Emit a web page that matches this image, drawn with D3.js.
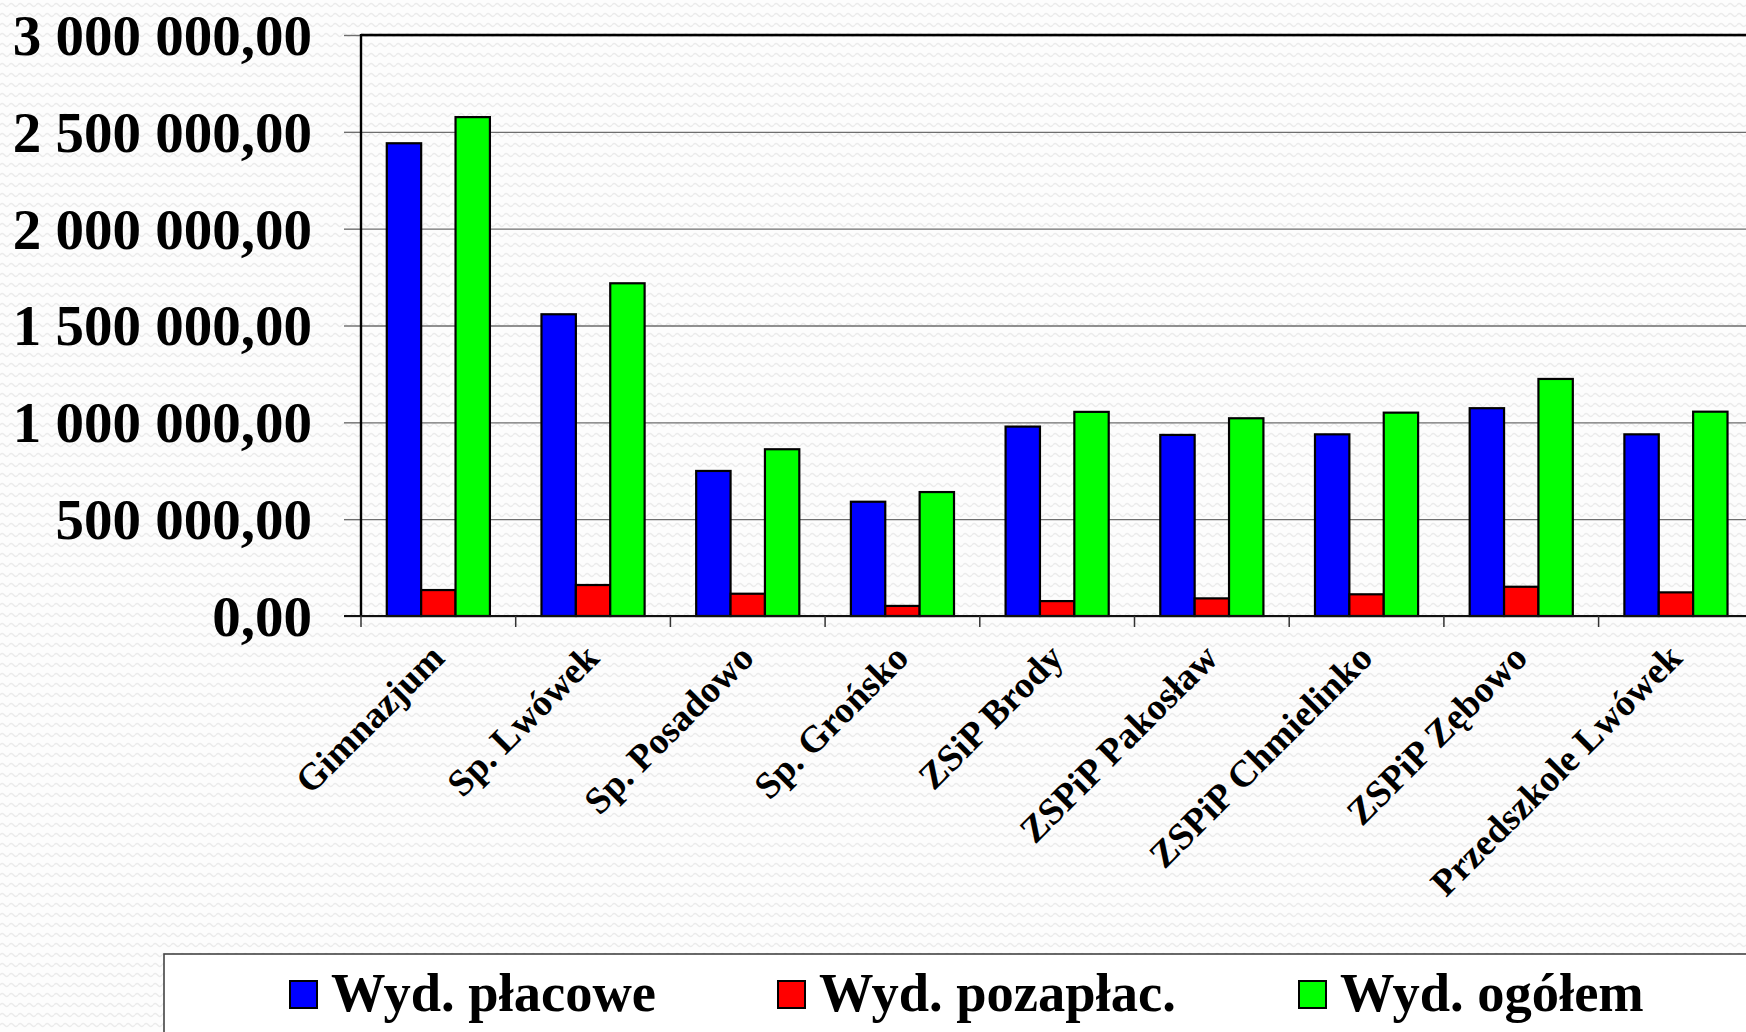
<!DOCTYPE html>
<html>
<head>
<meta charset="utf-8">
<script src="https://cdn.jsdelivr.net/npm/d3@7"></script>
<style>
  html, body { margin: 0; padding: 0; background: #ffffff; }
  svg { display: block; }
  text { font-family: "Liberation Serif", "Times New Roman", serif; font-weight: bold; fill: #000; }
</style>
</head>
<body>
<svg id="chart" width="1746" height="1032"></svg>
<script>
// ---- data ----
const categories = ["Gimnazjum", "Sp. Lwówek", "Sp. Posadowo", "Sp. Grońsko", "ZSiP Brody",
                    "ZSPiP Pakosław", "ZSPiP Chmielinko", "ZSPiP Zębowo", "Przedszkole Lwówek"];
const seriesNames = ["Wyd. płacowe", "Wyd. pozapłac.", "Wyd. ogółem"];
const placowe    = [2441000, 1558000, 749000, 590000, 978000, 935000, 938000, 1073000, 938000];
const pozaplac   = [134000, 160000, 115000, 52000, 77000, 91000, 112000, 151000, 122000];
const ogolem     = [2576000, 1718000, 861000, 640000, 1054000, 1021000, 1050000, 1224000, 1055000];
const yTicks     = [0, 500000, 1000000, 1500000, 2000000, 2500000, 3000000];
const seriesColors = ["#0000ff", "#ff0000", "#00ff00"];

const seriesValues = [placowe, pozaplac, ogolem];
const rows = categories.map((c, i) => ({cat: c, vals: seriesValues.map(s => s[i])}));

// ---- layout ----
const svg = d3.select("#chart");
const W = 1746, H = 1032;
const plotLeft = 361, plotTop = 35, plotBottom = 616;
const plotRight = plotLeft + 9 * 154.7;

// background texture
const defs = svg.append("defs");
const pat = defs.append("pattern").attr("id", "bg").attr("patternUnits", "userSpaceOnUse")
  .attr("width", 9).attr("height", 10);
pat.append("rect").attr("width", 9).attr("height", 10).attr("fill", "#fdfdfd");
pat.append("path").attr("d", "M0,5 Q2.25,2 4.5,5 T9,5")
  .attr("fill", "none").attr("stroke", "#ebebeb").attr("stroke-width", 1.3);
svg.append("rect").attr("width", W).attr("height", H).attr("fill", "url(#bg)");

const x0 = d3.scaleBand().domain(categories).range([plotLeft, plotRight]).paddingInner(0).paddingOuter(0);
const barW = x0.bandwidth() / 4.5;
const x1 = d3.scaleBand().domain(seriesNames).range([0, barW * 3]);
const y = d3.scaleLinear().domain([0, 3000000]).range([plotBottom, plotTop]);

const loc = d3.formatLocale({decimal: ",", thousands: " ", grouping: [3], currency: ["", ""]});
const fmt = loc.format(",.2f");

// gridlines
const grid = svg.append("g").attr("transform", `translate(${plotLeft},0)`)
  .call(d3.axisLeft(y).tickValues(yTicks).tickSize(-(plotRight - plotLeft)).tickFormat(""));
grid.select(".domain").remove();
grid.selectAll(".tick line").attr("stroke", "#6e6e6e").attr("stroke-width", 1.4);

// y axis with stubs and labels
const yAx = svg.append("g").attr("transform", `translate(${plotLeft},0)`)
  .call(d3.axisLeft(y).tickValues(yTicks).tickSize(17).tickPadding(32).tickFormat(fmt));
yAx.select(".domain").remove();
yAx.selectAll(".tick line").attr("stroke", "#6e6e6e").attr("stroke-width", 1.4);
yAx.selectAll(".tick text")
  .style("font-family", "'Liberation Serif','Times New Roman',serif")
  .style("font-weight", "bold").style("font-size", "57px").attr("fill", "#000")
  .attr("dy", "0.34em");

// bars
const groups = svg.append("g").selectAll("g").data(rows).join("g")
  .attr("transform", d => `translate(${x0(d.cat) + (x0.bandwidth() - barW * 3) / 2},0)`);
groups.selectAll("rect").data(d => d.vals.map((v, k) => ({v, k}))).join("rect")
  .attr("x", d => x1(seriesNames[d.k]))
  .attr("y", d => y(d.v))
  .attr("width", x1.bandwidth())
  .attr("height", d => plotBottom - y(d.v))
  .attr("fill", d => seriesColors[d.k])
  .attr("stroke", "#000").attr("stroke-width", 2.2);

// plot border lines: top and left black, baseline
svg.append("line").attr("x1", plotLeft).attr("x2", plotRight).attr("y1", plotTop).attr("y2", plotTop)
  .attr("stroke", "#000").attr("stroke-width", 2.6);
svg.append("line").attr("x1", plotLeft).attr("x2", plotLeft).attr("y1", plotTop - 1).attr("y2", plotBottom + 1)
  .attr("stroke", "#000").attr("stroke-width", 2.4);
svg.append("line").attr("x1", plotLeft - 17).attr("x2", plotRight).attr("y1", plotBottom).attr("y2", plotBottom)
  .attr("stroke", "#111").attr("stroke-width", 2.2);

// x ticks at category boundaries
const bounds = categories.map(c => x0(c)).concat([plotRight]);
svg.append("g").selectAll("line").data(bounds).join("line")
  .attr("x1", d => d).attr("x2", d => d)
  .attr("y1", plotBottom).attr("y2", plotBottom + 11)
  .attr("stroke", "#333").attr("stroke-width", 1.5);

// x labels (rotated)
const xAx = svg.append("g").attr("transform", `translate(0,${plotBottom})`)
  .call(d3.axisBottom(x0).tickSize(0).tickPadding(0));
xAx.select(".domain").remove();
xAx.selectAll(".tick text")
  .style("font-family", "'Liberation Serif','Times New Roman',serif")
  .style("font-weight", "bold").style("font-size", "37.5px").attr("fill", "#000")
  .attr("text-anchor", "end")
  .attr("dy", "0")
  .attr("transform", "translate(8,44) rotate(-45)");

// legend
const lg = svg.append("g");
lg.append("rect").attr("x", 164).attr("y", 954).attr("width", W).attr("height", 200)
  .attr("fill", "#ffffff").attr("stroke", "#444").attr("stroke-width", 1.6);
const legendX = [290, 778, 1299];
const items = lg.selectAll("g.item").data(seriesNames).join("g").attr("class", "item")
  .attr("transform", (d, i) => `translate(${legendX[i]},981)`);
items.append("rect").attr("width", 27).attr("height", 27)
  .attr("fill", (d, i) => seriesColors[i]).attr("stroke", "#000").attr("stroke-width", 2);
items.append("text").attr("x", 41).attr("y", 30)
  .style("font-size", "54.5px").text(d => d);
</script>
</body>
</html>
